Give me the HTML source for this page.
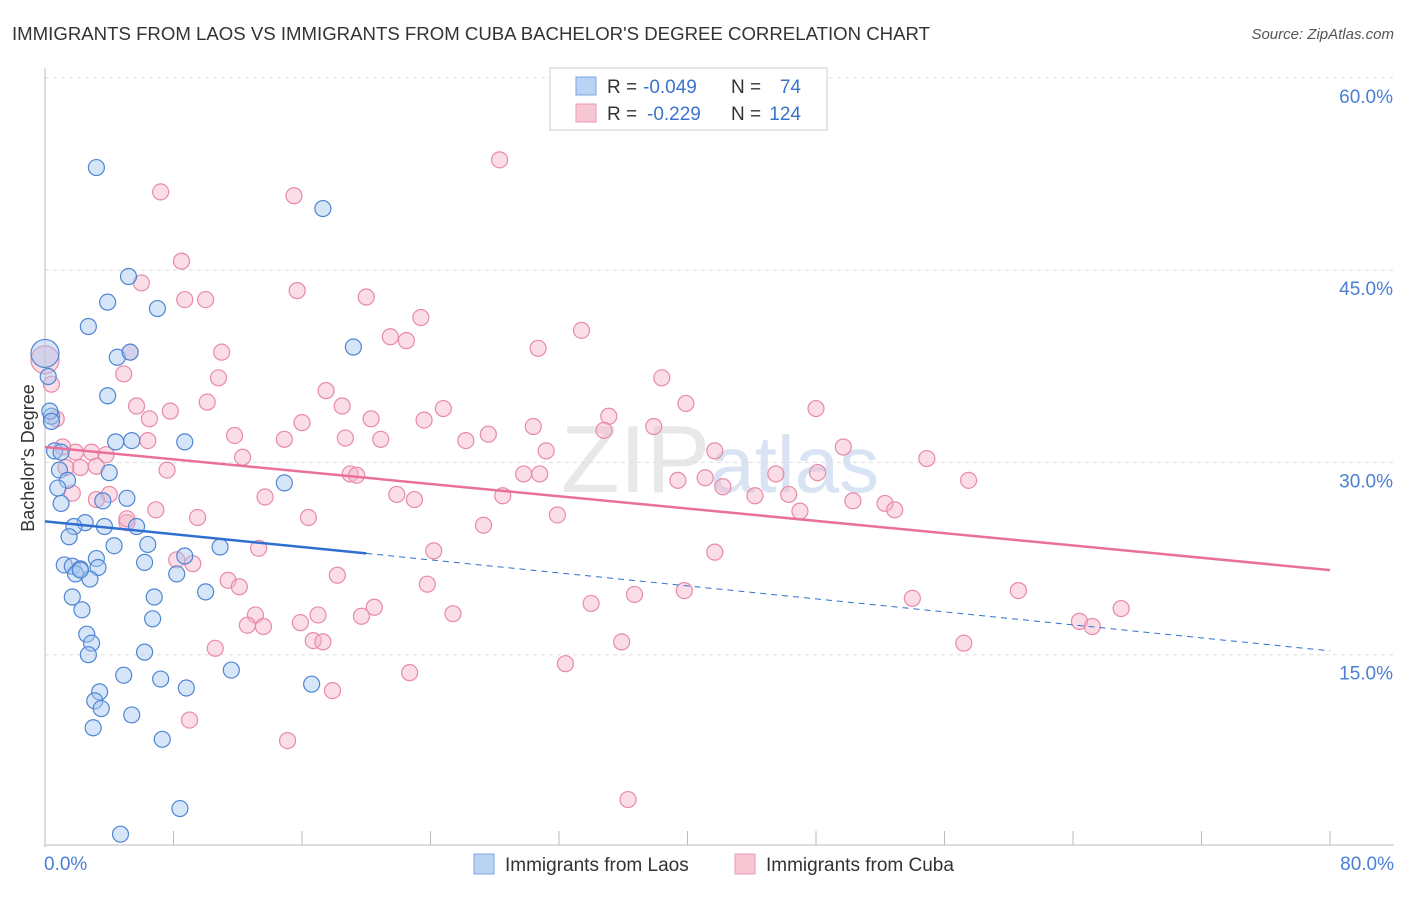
<!DOCTYPE html>
<html><head><meta charset="utf-8"><style>
body{margin:0;background:#fff;font-family:"Liberation Sans",sans-serif;}
svg text{font-family:"Liberation Sans",sans-serif;}
</style></head><body>
<svg width="1406" height="892" viewBox="0 0 1406 892" xmlns="http://www.w3.org/2000/svg">
<text x="12" y="40" font-size="18" fill="#333" textLength="918" lengthAdjust="spacingAndGlyphs">IMMIGRANTS FROM LAOS VS IMMIGRANTS FROM CUBA BACHELOR'S DEGREE CORRELATION CHART</text>
<text x="1394" y="39" font-size="15" fill="#555" text-anchor="end" font-style="italic">Source: ZipAtlas.com</text>
<text x="720" y="492" font-size="96" fill="#e8e8e8" text-anchor="middle" font-family="Liberation Serif">ZIP<tspan fill="#d8e4f4" font-family="Liberation Sans" font-size="80">atlas</tspan></text>
<g id="grid"></g>
<g id="axes"></g>
<g id="marks"></g>
<text transform="translate(34,458) rotate(-90)" font-size="18" fill="#333" text-anchor="middle">Bachelor's Degree</text>
<g>
<rect x="550" y="68" width="277" height="62" fill="#fff" stroke="#ccc"/>
<rect x="576" y="77" width="20" height="18" fill="#b9d3f3" stroke="#7aa5dd"/>
<rect x="576" y="104" width="20" height="18" fill="#f8c7d6" stroke="#eb9ab4"/>
<text x="607" y="93" font-size="19" fill="#333">R =</text>
<text x="643" y="93" font-size="19" fill="#3a73cc">-0.049</text>
<text x="731" y="93" font-size="19" fill="#333">N =</text>
<text x="801" y="93" font-size="19" fill="#3a73cc" text-anchor="end">74</text>
<text x="607" y="120" font-size="19" fill="#333">R =</text>
<text x="647" y="120" font-size="19" fill="#3a73cc">-0.229</text>
<text x="731" y="120" font-size="19" fill="#333">N =</text>
<text x="801" y="120" font-size="19" fill="#3a73cc" text-anchor="end">124</text>
</g>
<g>
<rect x="474" y="854" width="20" height="20" fill="#b9d3f3" stroke="#7aa5dd"/>
<text x="505" y="871" font-size="19" fill="#333">Immigrants from Laos</text>
<rect x="735" y="854" width="20" height="20" fill="#f8c7d6" stroke="#eb9ab4"/>
<text x="766" y="871" font-size="19" fill="#333">Immigrants from Cuba</text>
</g>
</svg>
<script>
const yTicks=[15,30,45,60];
const yTickLabels=["15.0%","30.0%","45.0%","60.0%"];
const xTickVals=[0,8,16,24,32,40,48,56,64,72,80];
const laosX=[3.2,17.3,5.2,3.9,7.0,2.7,19.2,4.5,5.3,0,0.2,3.9,0.4,4.4,5.4,8.7,0.6,1.0,0.9,4.0,1.4,0.8,14.9,5.1,3.6,1.0,2.5,1.8,3.7,5.7,1.5,6.4,4.3,10.9,8.7,3.2,1.2,1.7,6.2,3.3,2.2,1.9,2.8,8.2,2.2,10.0,6.8,1.7,2.3,6.7,2.6,2.9,2.7,6.2,4.9,11.6,7.2,8.8,3.4,3.1,3.5,5.4,3.0,7.3,16.6,8.4,4.7,0.3,0.4];
const laosY=[53.0,49.8,44.5,42.5,42.0,40.6,39.0,38.2,38.6,38.5,36.7,35.2,33.6,31.6,31.7,31.6,30.9,30.8,29.4,29.2,28.6,28.0,28.4,27.2,27.0,26.8,25.3,25.0,25.0,25.0,24.2,23.6,23.5,23.4,22.7,22.5,22.0,21.9,22.2,21.8,21.7,21.3,20.9,21.3,21.6,19.9,19.5,19.5,18.5,17.8,16.6,15.9,15.0,15.2,13.4,13.8,13.1,12.4,12.1,11.4,10.8,10.3,9.3,8.4,12.7,3.0,1.0,34.0,33.2];
const cubaX=[28.3,7.2,15.5,8.5,6.0,15.7,8.7,10.0,20.0,23.4,21.5,22.5,33.4,11.0,5.3,30.7,0,0.4,4.9,10.8,38.4,17.5,10.1,18.5,5.7,6.5,16.0,7.8,0.7,24.8,20.3,35.1,39.9,48.0,23.6,30.4,37.9,34.8,11.8,18.7,20.9,6.4,14.9,26.2,27.6,31.2,49.7,41.7,1.1,1.9,2.9,3.8,12.3,54.9,2.2,1.3,3.2,7.6,19.0,19.4,29.8,30.8,45.5,48.1,39.4,41.1,57.5,1.7,4.0,3.2,13.7,21.9,23.0,28.5,44.2,42.2,46.3,50.3,52.3,52.9,6.9,9.5,16.4,47.0,31.9,27.3,5.1,5.1,24.2,13.3,41.7,8.2,9.2,23.8,18.2,11.4,12.1,39.8,36.7,54.0,60.6,67.0,20.5,17.0,34.0,25.4,19.7,13.1,12.6,13.6,64.4,65.2,16.7,17.3,35.9,57.2,10.6,32.4,22.7,17.9,9.0,15.1,36.3,15.9];
const cubaY=[53.6,51.1,50.8,45.7,44.0,43.4,42.7,42.7,42.9,41.3,39.8,39.5,40.3,38.6,38.6,38.9,38.0,36.1,36.9,36.6,36.6,35.6,34.7,34.4,34.4,33.4,33.1,34.0,33.4,34.2,33.4,33.6,34.6,34.2,33.3,32.8,32.8,32.5,32.1,31.9,31.8,31.7,31.8,31.7,32.2,30.9,31.2,30.9,31.2,30.8,30.8,30.6,30.4,30.3,29.6,29.6,29.7,29.4,29.1,29.0,29.1,29.1,29.1,29.2,28.6,28.8,28.6,27.6,27.5,27.1,27.3,27.5,27.1,27.4,27.4,28.1,27.5,27.0,26.8,26.3,26.3,25.7,25.7,26.2,25.9,25.1,25.3,25.6,23.1,23.3,23.0,22.4,22.1,20.5,21.2,20.8,20.3,20.0,19.7,19.4,20.0,18.6,18.7,18.1,19.0,18.2,18.0,18.1,17.3,17.2,17.6,17.2,16.1,16.0,16.0,15.9,15.5,14.3,13.6,12.2,9.9,8.3,3.7,17.5];
const laosTrend=[0,25.4,20,22.9,80,15.3];
const cubaTrend=[0,31.2,80,21.6];
const NS="http://www.w3.org/2000/svg";
const X0=45,X1=1330,Y0=847,PX=192.3/15;
const sx=v=>X0+(v/80)*(X1-X0);
const sy=v=>Y0-v*PX;
function mk(tag,attrs,parent){const e=document.createElementNS(NS,tag);for(const k in attrs)e.setAttribute(k,attrs[k]);parent.appendChild(e);return e;}
const grid=document.getElementById('grid'),axes=document.getElementById('axes'),marks=document.getElementById('marks');
yTicks.forEach((t,i)=>{
 const l=mk('line',{x1:X0,x2:1394,y1:sy(t),y2:sy(t),stroke:'#ddd','stroke-dasharray':'4,4'},grid);
 
 
 const tx=mk('text',{x:1393,y:sy(t)+25,'font-size':19,fill:'#4a7fd4','text-anchor':'end'},axes);
 tx.textContent=yTickLabels[i];
 
 
});
const ax=mk('line',{x1:X0,x2:X0,y1:68,y2:847,stroke:'#bbb'},axes);


const bx=mk('line',{x1:X0,x2:1394,y1:845,y2:845,stroke:'#bbb'},axes);


xTickVals.forEach(t=>{
 const l=mk('line',{x1:sx(t),x2:sx(t),y1:831,y2:845,stroke:'#bbb'},axes);
 
 
});
const xl0=mk('text',{x:44,y:870,'font-size':19,fill:'#4a7fd4'},axes);xl0.textContent='0.0%';


const xl1=mk('text',{x:1394,y:870,'font-size':19,fill:'#4a7fd4','text-anchor':'end'},axes);xl1.textContent='80.0%';


function pts(xs,ys,fill,stroke,name){xs.forEach((x,i)=>{
 const r=(x===0)?14:8;
 const c=mk('circle',{cx:sx(x),cy:sy(ys[i]),r:r,fill:fill,'fill-opacity':0.45,stroke:stroke,'stroke-width':1.2},marks);
 
 
});}
pts(cubaX,cubaY,'#f5b3c8','#e88aa8','cuba-point');
pts(laosX,laosY,'#a7c6ef','#4f86d3','laos-point');
const bt1=mk('line',{x1:sx(laosTrend[0]),y1:sy(laosTrend[1]),x2:sx(laosTrend[2]),y2:sy(laosTrend[3]),stroke:'#2f6fd0','stroke-width':2.5},marks);


const bt2=mk('line',{x1:sx(laosTrend[2]),y1:sy(laosTrend[3]),x2:sx(laosTrend[4]),y2:sy(laosTrend[5]),stroke:'#2f6fd0','stroke-width':1,'stroke-dasharray':'6,5'},marks);


const ct=mk('line',{x1:sx(cubaTrend[0]),y1:sy(cubaTrend[1]),x2:sx(cubaTrend[2]),y2:sy(cubaTrend[3]),stroke:'#e8709a','stroke-width':2.5},marks);


</script>
</body></html>
